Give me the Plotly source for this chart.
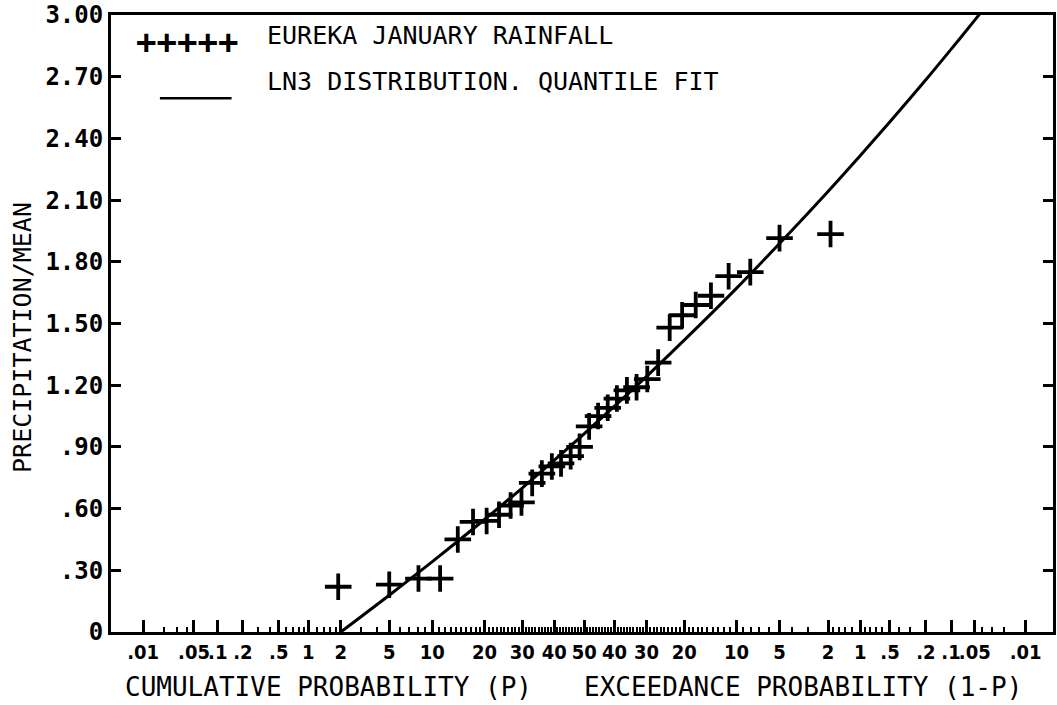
from statistics import NormalDist
import plotly.graph_objects as go

# ---------------- data ----------------
# observed sample: cumulative probability (%) and precipitation / mean
obs_prob_pct = [1.9, 5.0, 8.1, 11.2, 14.3, 17.4, 20.5, 23.6, 26.7, 29.8, 33.0,
                36.0, 39.2, 42.2, 45.4, 48.4, 51.6, 54.6, 57.8, 60.8, 64.0,
                67.0, 70.2, 73.3, 76.4, 79.5, 82.6, 85.7, 88.8, 91.9, 95.0, 98.1]
obs_value = [0.22, 0.23, 0.26, 0.26, 0.45, 0.535, 0.54, 0.57, 0.615, 0.63, 0.725,
             0.77, 0.805, 0.82, 0.855, 0.90, 1.00, 1.05, 1.09, 1.135, 1.175,
             1.19, 1.23, 1.31, 1.48, 1.54, 1.59, 1.635, 1.73, 1.75, 1.915, 1.935]

# LN3 quantile fit read at selected probabilities
fit_prob_pct = [2, 5, 10, 20, 30, 40, 50, 60, 70, 80, 90, 95, 98, 99, 99.5,
                99.8, 99.9, 99.95, 99.96]
fit_value = [0.0, 0.179, 0.342, 0.547, 0.70, 0.836, 0.965, 1.098, 1.243, 1.419,
             1.671, 1.889, 2.142, 2.317, 2.481, 2.685, 2.833, 2.975, 3.02]

# x-axis (probability scale) labelled ticks
major_pct = [0.01, 0.05, 0.1, 0.2, 0.5, 1, 2, 5, 10, 20, 30, 40, 50,
             60, 70, 80, 90, 95, 98, 99, 99.5, 99.8, 99.9, 99.95, 99.99]
major_text = [".01", ".05", ".1", ".2", ".5", "1", "2", "5", "10", "20", "30", "40", "50",
              "40", "30", "20", "10", "5", "2", "1", ".5", ".2", ".1", ".05", ".01"]
minor_side_pct = [0.02, 0.03, 0.04, 0.3, 0.4, 0.6, 0.7, 0.8, 0.9, 1.2, 1.4, 1.6, 1.8,
                  3, 4, 6, 7, 8, 9] + list(range(11, 20)) + list(range(21, 30)) + \
                 list(range(31, 40)) + list(range(41, 50))

y_tickvals = [0, 0.3, 0.6, 0.9, 1.2, 1.5, 1.8, 2.1, 2.4, 2.7, 3.0]
y_ticktext = ["0", ".30", ".60", ".90", "1.20", "1.50", "1.80", "2.10", "2.40", "2.70", "3.00"]

# ---------------- probability-paper scale ----------------
nd = NormalDist()
def zq(pct):
    return nd.inv_cdf(pct / 100.0)

obs_z = [zq(p) for p in obs_prob_pct]
fit_z = [zq(p) for p in fit_prob_pct]
major_z = [zq(p) for p in major_pct]
minor_z = [zq(p) for p in minor_side_pct] + [zq(100 - p) for p in minor_side_pct]

MONO = "DejaVu Sans Mono"
NARROW = "DejaVu Sans Condensed, Roboto, DejaVu Sans"

fig = go.Figure()
fig.add_trace(go.Scatter(
    x=fit_z, y=fit_value, mode="lines",
    line=dict(color="black", width=3, shape="spline"),
    showlegend=False, hoverinfo="skip"))
fig.add_trace(go.Scatter(
    x=obs_z, y=obs_value, mode="markers",
    marker=dict(symbol="cross-thin", size=19, color="black",
                line=dict(color="black", width=3.8)),
    showlegend=False))

fig.update_layout(
    width=1057, height=705,
    margin=dict(l=111, r=1, t=11, b=73),
    paper_bgcolor="white", plot_bgcolor="white",
    showlegend=False,
    xaxis=dict(
        range=[-3.99, 3.95], showgrid=False, zeroline=False,
        tickmode="array", tickvals=major_z, ticktext=major_text, tickangle=0,
        ticks="inside", ticklen=12, tickwidth=2.5, tickcolor="black",
        showline=True, linecolor="black", linewidth=3, mirror=True,
        tickfont=dict(family=NARROW, size=20, color="black", weight="bold"),
        ticklabeloverflow="allow",
        minor=dict(tickvals=minor_z, ticks="inside", ticklen=5, tickwidth=2,
                   tickcolor="black", showgrid=False),
    ),
    yaxis=dict(
        range=[0, 3.0], showgrid=False, zeroline=False,
        tickmode="array", tickvals=y_tickvals, ticktext=y_ticktext,
        ticks="inside", ticklen=10, tickwidth=2.5, tickcolor="black",
        showline=True, linecolor="black", linewidth=3, mirror="ticks",
        tickfont=dict(family=MONO, size=24, color="black", weight="bold"),
        ticklabeloverflow="allow",
    ),
)

ann_font = dict(family=MONO, size=26, color="black")
fig.add_annotation(text="CUMULATIVE PROBABILITY (P)", xref="paper", yref="paper",
                   x=0.2307, y=-0.0884, xanchor="center", yanchor="middle",
                   showarrow=False, font=ann_font)
fig.add_annotation(text="EXCEEDANCE PROBABILITY (1-P)", xref="paper", yref="paper",
                   x=0.7349, y=-0.0884, xanchor="center", yanchor="middle",
                   showarrow=False, font=ann_font)
fig.add_annotation(text="PRECIPITATION/MEAN", xref="paper", yref="paper",
                   x=-0.0942, y=0.477, xanchor="center", yanchor="middle",
                   textangle=-90, showarrow=False,
                   font=dict(family=MONO, size=25, color="black"))

# legend
fig.add_annotation(text="+++++", xref="paper", yref="paper",
                   x=0.0804, y=0.956, xanchor="center", yanchor="middle",
                   showarrow=False, font=dict(family=MONO, size=34, color="black", weight="bold"))
fig.add_annotation(text="EUREKA JANUARY RAINFALL", xref="paper", yref="paper",
                   x=0.163, y=0.966, xanchor="left", yanchor="middle",
                   showarrow=False, font=dict(family=MONO, size=25, color="black"))
fig.add_annotation(text="LN3 DISTRIBUTION. QUANTILE FIT", xref="paper", yref="paper",
                   x=0.163, y=0.893, xanchor="left", yanchor="middle",
                   showarrow=False, font=dict(family=MONO, size=25, color="black"))
fig.add_shape(type="line", xref="paper", yref="paper",
              x0=0.0519, x1=0.128, y0=0.865, y1=0.865,
              line=dict(color="black", width=2.5))

fig.write_html("out.html")
